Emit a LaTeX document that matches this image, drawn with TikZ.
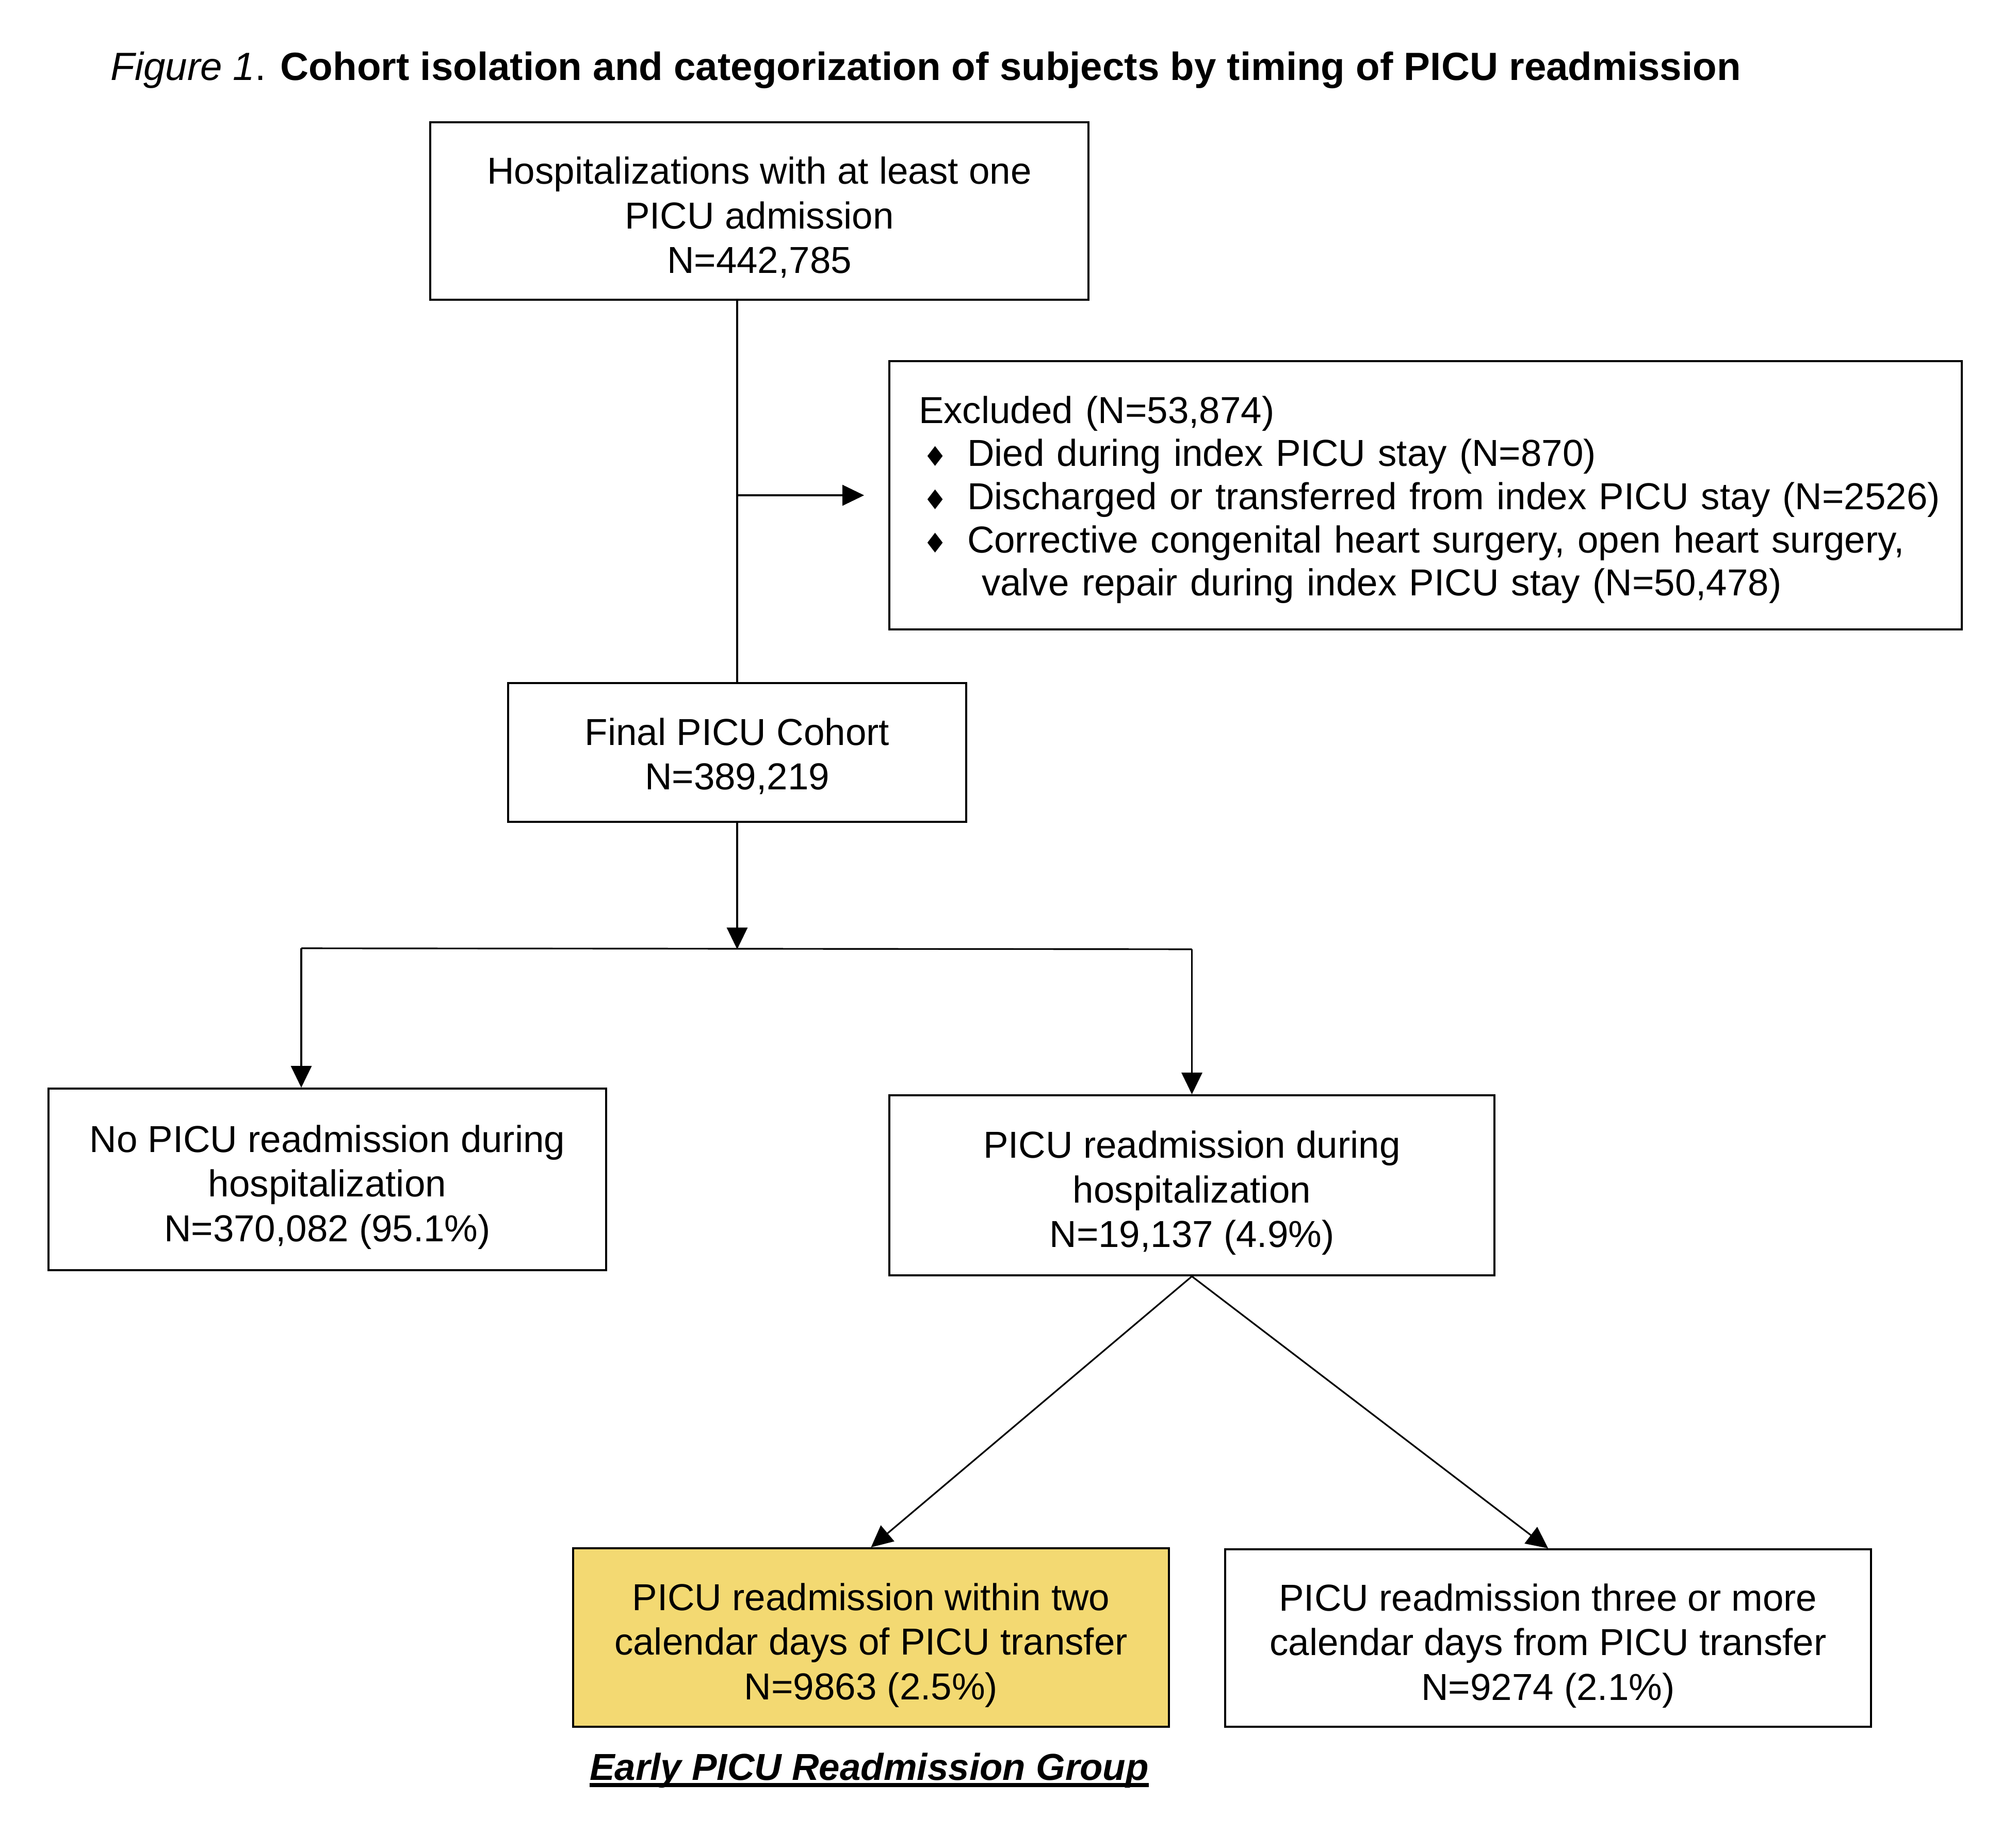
\documentclass[tikz,border=0pt]{standalone}
\usepackage{fontspec}
\setmainfont{Liberation Sans}
\newfontfamily\dejavu{DejaVu Sans}
\usetikzlibrary{arrows.meta,calc}
\definecolor{earlyfill}{RGB}{243,217,114}
\newcommand{\bul}{\makebox[0.94cm][l]{\hspace{0.08cm}{\dejavu\fontsize{15}{15}\selectfont ♦}}}
\newcommand{\tstrut}[1]{\rule{0pt}{#1}}
\begin{document}
\begin{tikzpicture}[
  txt/.style={font=\fontsize{20.7}{24.6}\selectfont},
  box/.style={txt, draw, line width=1.1pt, align=center, inner sep=0pt},
  conn/.style={line width=0.9pt},
  tip/.style={-{Triangle[length=0.42cm,width=0.40cm]}}
]
\useasboundingbox[fill=white] (0,0) rectangle (38.79,-35.81);

\node[anchor=base west, inner sep=0pt, font=\fontsize{21.7}{26}\selectfont] (title) at (2.14,-1.55)
  {\textit{Figure 1}. \textbf{Cohort isolation and categorization of subjects by timing of PICU readmission}};

\node[box, minimum width=12.76cm, minimum height=3.44cm] (top) at (14.72,-4.09)
  {\tstrut{22pt}Hospitalizations with at least one\\PICU admission\\N=442,785};

\node[box, font=\fontsize{20.7}{23.8}\selectfont, minimum width=20.79cm, minimum height=5.20cm, text width=19.65cm, align=left] (excl) at (27.635,-9.60)
  {\tstrut{0.78cm}Excluded (N=53,874)\\
   \mbox{\bul Died during index PICU stay (N=870)}\\
   \mbox{\bul Discharged or transferred from index PICU stay (N=2526)}\\
   \mbox{\bul Corrective congenital heart surgery, open heart surgery,}\\
   \mbox{\hspace*{1.22cm}valve repair during index PICU stay (N=50,478)\rule[-0.23cm]{0pt}{0pt}}};

\node[box, minimum width=8.88cm, minimum height=2.69cm] (final) at (14.29,-14.585)
  {\tstrut{19pt}Final PICU Cohort\\N=389,219};

\node[box, minimum width=10.81cm, minimum height=3.52cm] (no) at (6.345,-22.86)
  {\tstrut{23.5pt}No PICU readmission during\\hospitalization\\N=370,082 (95.1\%)};

\node[box, minimum width=11.73cm, minimum height=3.49cm] (yes) at (23.105,-22.975)
  {\tstrut{23.5pt}PICU readmission during\\hospitalization\\N=19,137 (4.9\%)};

\node[box, fill=earlyfill, minimum width=11.55cm, minimum height=3.46cm] (early) at (16.885,-31.74)
  {\tstrut{23.5pt}PICU readmission within two\\calendar days of PICU transfer\\N=9863 (2.5\%)};

\node[box, minimum width=12.52cm, minimum height=3.44cm] (late) at (30.01,-31.75)
  {\tstrut{23.5pt}PICU readmission three or more\\calendar days from PICU transfer\\N=9274 (2.1\%)};

\node[txt, anchor=base, inner sep=0pt] (lbl) at (16.85,-34.50)
  {\textbf{\textit{Early PICU Readmission Group}}};
\draw[line width=2.2pt] ([yshift=-0.10cm]lbl.base west) -- ([yshift=-0.10cm]lbl.base east);

% connectors
\coordinate (vtop) at (final.north |- top.south);
\coordinate (jx) at (final.north |- excl.west);
\draw[conn] (vtop) -- (final.north);
\draw[conn, tip] (jx) -- ([xshift=-0.47cm]excl.west);

\coordinate (split) at ($(final.south)+(0,-2.45)$);
\coordinate (bl) at (5.84,-18.38);
\coordinate (br) at (yes.north |- split);
\draw[conn, tip] (final.south) -- (split);
\draw[conn] (bl) -- (br);
\draw[conn, tip] (bl) -- (bl |- no.north);
\draw[conn, tip] (br) -- (yes.north);

\draw[conn, tip] (yes.south) -- (early.north);
\draw[conn, tip] (yes.south) -- (late.north);
\end{tikzpicture}
\end{document}
